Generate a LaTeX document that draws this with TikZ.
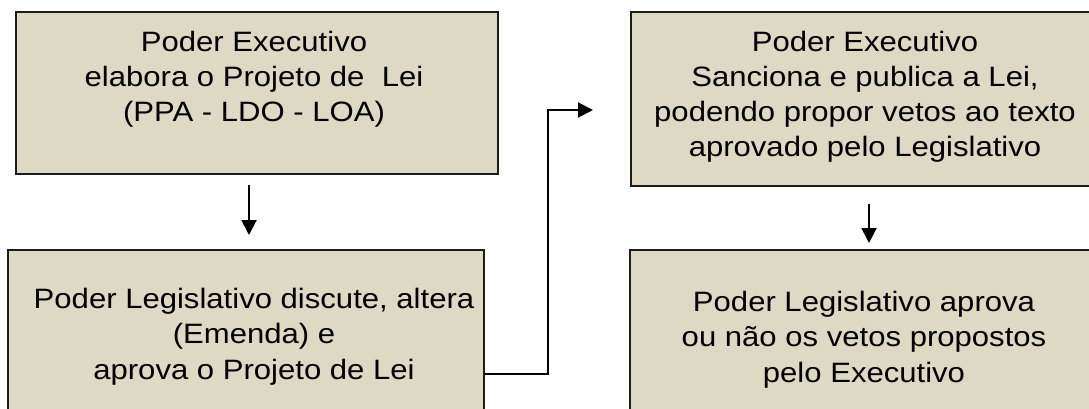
\documentclass[tikz,border=0pt]{standalone}
\usepackage{fontspec}
\setmainfont{Liberation Sans}[FakeStretch=1.11]
\usetikzlibrary{arrows.meta}
\definecolor{boxfill}{RGB}{221,217,194}
\definecolor{boxline}{RGB}{28,28,28}
\begin{document}
\begin{tikzpicture}[x=1pt,y=-1pt,
  box/.style={draw=boxline, fill=boxfill, line width=2.2pt, inner sep=0pt, anchor=north west},
  txt/.style={align=center, font=\fontsize{28}{35.3}\selectfont, inner sep=0pt, anchor=base},
  arr/.style={line width=2pt, draw=black, -{Triangle[length=15pt,width=15pt]}}]
\useasboundingbox (0,0) rectangle (1089,409);
\clip (0,0) rectangle (1089,409);
% boxes
\node[box, minimum width=482pt, minimum height=162pt] (b1) at (15,11) {};
\node[box, minimum width=476pt, minimum height=185pt] (b2) at (7,249) {};
\node[box, minimum width=480pt, minimum height=174pt] (b3) at (630,11) {};
\node[box, minimum width=480pt, minimum height=185pt] (b4) at (629,249) {};
% texts (anchored at the baseline of their last line)
\node[txt] (t1) at (254,122) {Poder Executivo\\elabora o Projeto de\ \ Lei\\(PPA - LDO - LOA)};
\node[txt] (t2) at (254,379) {Poder Legislativo discute, altera\\(Emenda) e\\aprova o Projeto de Lei};
\node[txt] (t3) at (865,157) {Poder Executivo\\Sanciona e publica a Lei,\\podendo propor vetos ao texto\\aprovado pelo Legislativo};
\node[txt] (t4) at (864,382) {Poder Legislativo aprova\\ou não os vetos propostos\\pelo Executivo};
% connectors
\coordinate (a1s) at (249,185);
\coordinate (a1e) at (249,235);
\coordinate (a3s) at (869,204);
\coordinate (a3e) at (869,243);
\coordinate (c1) at (548,374);
\coordinate (c2) at (593,110);
\draw[arr] (a1s) -- (a1e);
\draw[arr] (a3s) -- (a3e);
\draw[arr] (b2.east |- c1) -- (c1) |- (c2);
\end{tikzpicture}
\end{document}
